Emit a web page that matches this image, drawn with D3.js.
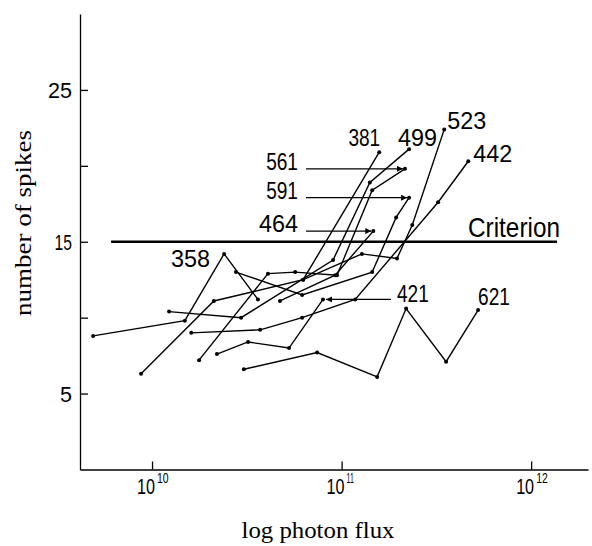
<!DOCTYPE html>
<html>
<head>
<meta charset="utf-8">
<script src="https://cdn.jsdelivr.net/npm/d3@7"></script>
<style>
  body { margin: 0; background: #fff; }
  svg { display: block; }
</style>
</head>
<body>
<div id="chart"></div>
<script>
// data: [photon flux, number of spikes]
const s358 = [[4.89e9, 8.8], [1.49e10, 9.8], [2.40e10, 14.2], [3.62e10, 11.2]];
const s381 = [[8.75e9, 6.3], [2.12e10, 11.1], [6.27e10, 12.5], [1.58e11, 20.9]];
const s421 = [[2.20e10, 7.6], [3.21e10, 8.4], [5.28e10, 8.0], [7.98e10, 11.2]];
const s442 = [[1.61e10, 9.0], [3.72e10, 9.2], [6.19e10, 10.0], [1.18e11, 11.2], [3.23e11, 17.6], [4.66e11, 20.3]];
const s464 = [[4.73e10, 11.1], [9.25e10, 12.8], [1.47e11, 15.7]];
const s499 = [[1.23e10, 10.4], [2.95e10, 10.0], [9.02e10, 13.8], [1.41e11, 18.9], [2.27e11, 21.1]];
const s523 = [[6.27e10, 12.5], [1.28e11, 14.2], [1.96e11, 13.9], [2.36e11, 16.1], [3.48e11, 22.4]];
const s561 = [[1.77e10, 7.2], [4.09e10, 12.9], [5.69e10, 13.0], [9.46e10, 12.8], [1.45e11, 18.4], [2.16e11, 19.8]];
const s591 = [[2.77e10, 13.0], [6.19e10, 11.5], [1.45e11, 13.0], [1.94e11, 16.6], [2.27e11, 17.9]];
const s621 = [[3.05e10, 6.6], [7.43e10, 7.7], [1.54e11, 6.1], [2.19e11, 10.6], [3.56e11, 7.1], [5.25e11, 10.5]];

const wavelengths = ["358", "381", "421", "442", "464", "499", "523", "561", "591", "621"];
const seriesList = [s358, s381, s421, s442, s464, s499, s523, s561, s591, s621];

const criterion = 15;
const criterionRange = [6.08e9, 1.37e12];
const yTicks = [5, 10, 15, 20, 25];
const yTickLabels = ["5", "", "15", "", "25"];
const xTicks = [1e10, 1e11, 1e12];
const xTickExponents = ["10", "11", "12"];

const width = 592, height = 546;
const sans = 'Liberation Sans, Arial, sans-serif';
const serif = 'Liberation Serif, Times New Roman, serif';

const svg = d3.select('#chart')
    .append('svg')
    .attr('width', width)
    .attr('height', height)
    .style('background', '#fff');

// scales
const xScale = d3.scaleLog()
    .domain([Math.pow(10, 9.62), Math.pow(10, 12.3)])
    .range([80, 588]);

const yScale = d3.scaleLinear()
    .domain([0, 30])
    .range([469.5, 14]);

// width of a digit string in the figure's lettering, where "1" is a bare stroke
function digitWidth(txt, w) {
    const ones = txt.split('').filter(c => c === '1').length;
    return w * (txt.length - ones) + w * 0.45 * ones;
}

// axes, ticks pointing inward
svg.append('g')
    .attr('transform', 'translate(80,0)')
    .call(d3.axisLeft(yScale).tickValues(yTicks).tickSizeInner(-8).tickSizeOuter(0).tickFormat(''))
    .call(g => g.selectAll('line, path').attr('stroke', '#000').attr('stroke-width', 1.3));

svg.append('g')
    .attr('transform', 'translate(0,469.5)')
    .call(d3.axisBottom(xScale).tickValues(xTicks).tickSizeInner(-8).tickSizeOuter(0).tickFormat(''))
    .call(g => g.selectAll('line, path').attr('stroke', '#000').attr('stroke-width', 1.3));

// y tick labels
yTicks.forEach((t, i) => {
    if (!yTickLabels[i]) return;
    svg.append('text')
        .attr('x', 72)
        .attr('y', yScale(t) + 8)
        .attr('text-anchor', 'end')
        .attr('textLength', digitWidth(yTickLabels[i], 12))
        .attr('lengthAdjust', 'spacingAndGlyphs')
        .style('font-family', sans)
        .style('font-size', '22px')
        .text(yTickLabels[i]);
});

// x tick labels: base "10" plus a superscript exponent, in one text
xTicks.forEach((t, i) => {
    const lab = svg.append('text')
        .attr('x', xScale(t) - 15)
        .attr('y', 494)
        .style('font-family', sans)
        .style('font-size', '22px');
    lab.append('tspan')
        .attr('textLength', 18)
        .attr('lengthAdjust', 'spacingAndGlyphs')
        .text('10');
    lab.append('tspan')
        .attr('dx', 2)
        .attr('dy', -11)
        .attr('textLength', digitWidth(xTickExponents[i], 8))
        .attr('lengthAdjust', 'spacingAndGlyphs')
        .style('font-size', '14px')
        .text(xTickExponents[i]);
});

// axis titles
svg.append('text')
    .attr('x', 318)
    .attr('y', 538)
    .attr('text-anchor', 'middle')
    .attr('textLength', 153)
    .attr('lengthAdjust', 'spacingAndGlyphs')
    .style('font-family', serif)
    .style('font-size', '23px')
    .text('log photon flux');

svg.append('text')
    .attr('transform', 'translate(31,223) rotate(-90)')
    .attr('text-anchor', 'middle')
    .attr('textLength', 186)
    .attr('lengthAdjust', 'spacingAndGlyphs')
    .style('font-family', serif)
    .style('font-size', '24px')
    .text('number of spikes');

// criterion line
svg.append('line')
    .attr('x1', xScale(criterionRange[0]))
    .attr('x2', xScale(criterionRange[1]))
    .attr('y1', yScale(criterion))
    .attr('y2', yScale(criterion))
    .attr('stroke', '#000')
    .attr('stroke-width', 2.6);

svg.append('text')
    .attr('x', 468)
    .attr('y', yScale(criterion) - 5)
    .attr('textLength', 92)
    .attr('lengthAdjust', 'spacingAndGlyphs')
    .style('font-family', sans)
    .style('font-size', '28px')
    .text('Criterion');

// series lines and dots
const line = d3.line()
    .x(d => xScale(d[0]))
    .y(d => yScale(d[1]));

seriesList.forEach(s => {
    svg.append('path')
        .datum(s)
        .attr('d', line)
        .attr('fill', 'none')
        .attr('stroke', '#000')
        .attr('stroke-width', 1.4);

    svg.append('g')
        .selectAll('circle')
        .data(s)
        .enter().append('circle')
        .attr('cx', d => xScale(d[0]))
        .attr('cy', d => yScale(d[1]))
        .attr('r', 2)
        .attr('fill', '#000');
});

// arrow head marker
svg.append('defs').append('marker')
    .attr('id', 'arrow')
    .attr('viewBox', '0 0 10 10')
    .attr('refX', 10)
    .attr('refY', 5)
    .attr('markerWidth', 10)
    .attr('markerHeight', 6)
    .attr('markerUnits', 'userSpaceOnUse')
    .attr('orient', 'auto')
    .append('path')
    .attr('d', 'M0,0 L10,5 L0,10 Z')
    .attr('fill', '#000');

function label(txt, x, y, anchor) {
    svg.append('text')
        .attr('x', x)
        .attr('y', y)
        .attr('text-anchor', anchor || 'start')
        .attr('textLength', digitWidth(txt, 13))
        .attr('lengthAdjust', 'spacingAndGlyphs')
        .style('font-family', sans)
        .style('font-size', '24px')
        .text(txt);
}

function lastPt(s) {
    const d = s[s.length - 1];
    return [xScale(d[0]), yScale(d[1])];
}

// labels next to the line ends
let p = lastPt(s381); label('381', p[0] + 1, p[1] - 6, 'end');
p = lastPt(s499); label('499', p[0] - 11, p[1] - 3);
p = lastPt(s523); label('523', p[0] + 3, p[1]);
p = lastPt(s442); label('442', p[0] + 5, p[1] + 1);
p = lastPt(s621); label('621', p[0], p[1] - 5);
const peak358 = s358[2];
label('358', xScale(peak358[0]) - 14, yScale(peak358[1]) + 13, 'end');

// labels with arrows pointing at the line ends
[[s561, '561'], [s591, '591'], [s464, '464']].forEach(([s, txt]) => {
    const e = lastPt(s);
    label(txt, 298, e[1] + 1, 'end');
    svg.append('line')
        .attr('x1', 306)
        .attr('x2', e[0] - 2)
        .attr('y1', e[1])
        .attr('y2', e[1])
        .attr('stroke', '#000')
        .attr('stroke-width', 1.3)
        .attr('marker-end', 'url(#arrow)');
});

const e421 = lastPt(s421);
label('421', 397, e421[1] + 3);
svg.append('line')
    .attr('x1', 391)
    .attr('x2', e421[0] + 3)
    .attr('y1', e421[1])
    .attr('y2', e421[1])
    .attr('stroke', '#000')
    .attr('stroke-width', 1.3)
    .attr('marker-end', 'url(#arrow)');
</script>
</body>
</html>
